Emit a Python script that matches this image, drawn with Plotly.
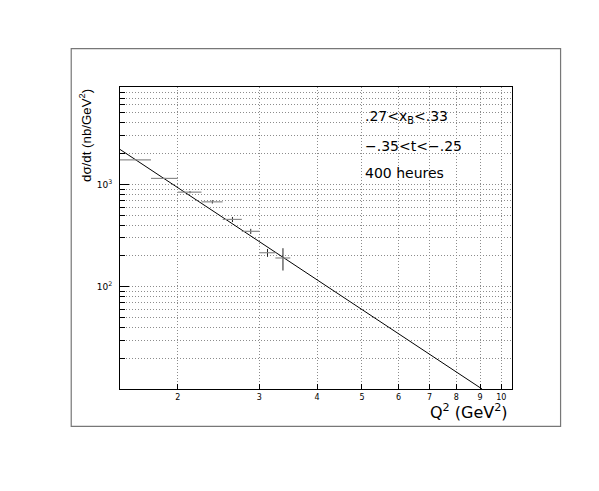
import plotly.graph_objects as go
import math

# ---- data ----
q2_centers = [1.625, 1.875, 2.125, 2.375, 2.625, 2.875, 3.125, 3.375]
q2_halfwidth = [0.125, 0.125, 0.125, 0.125, 0.125, 0.125, 0.125, 0.125]
dsigma = [1739, 1145, 841, 676, 455, 348, 215, 191]
dsigma_err = [12, 14, 20, 25, 26, 20, 19, 47]

fit_q2 = [1.5, 9.09]
fit_dsigma = [2200, 10]

x_tick_vals = [2, 3, 4, 5, 6, 7, 8, 9, 10]
x_tick_text = ["2", "3", "4", "5", "6", "7", "8", "9", "10"]
y_major_vals = [100, 1000]
y_major_text = ["10<sup>2</sup>", "10<sup>3</sup>"]
y_minor_vals = [20, 30, 40, 50, 60, 70, 80, 90,
                200, 300, 400, 500, 600, 700, 800, 900,
                2000, 3000, 4000, 5000, 6000, 7000, 8000, 9000]

x_range = [1.5, 10.55]
y_range = [10, 8970]

labels = [".27&lt;x<sub>B</sub>&lt;.33", "\u2212.35&lt;t&lt;\u2212.25", "400 heures"]

FONT = "DejaVu Sans"

fig = go.Figure()

fig.add_trace(go.Scatter(
    x=fit_q2, y=fit_dsigma, mode="lines",
    line=dict(color="black", width=1), showlegend=False, hoverinfo="skip"))

fig.add_trace(go.Scatter(
    x=q2_centers, y=dsigma, mode="markers",
    marker=dict(size=1, color="rgba(0,0,0,0)"),
    error_x=dict(type="data", array=q2_halfwidth, color="#8a8a8a", thickness=1.2, width=0),
    error_y=dict(type="data", array=dsigma_err, color="#222222", thickness=1, width=0),
    showlegend=False))

# page offset from the default body margin
OFF = 8
# plot area in page pixels
L, R, T, B = 119.5, 511.7, 86.7, 389.3
W, H = 599 - 2 * OFF, 491 - 2 * OFF
pw, ph = R - L, B - T

def px_x(px):
    return (px - L) / pw

def px_y(py):
    return (B - py) / ph

GRIDDASH = "1px,2px"
GRIDCOL = "#8c8c8c"
grid = dict(showgrid=True, gridcolor=GRIDCOL, griddash=GRIDDASH, gridwidth=1)

fig.update_xaxes(
    type="log", range=[math.log10(x_range[0]), math.log10(x_range[1])],
    tickmode="array", tickvals=x_tick_vals, ticktext=x_tick_text,
    ticks="inside", ticklen=5, tickcolor="black",
    showline=True, linecolor="black", linewidth=1, mirror=True,
    tickfont=dict(family=FONT, size=8, color="black"),
    zeroline=False, **grid)

fig.update_yaxes(
    type="log", range=[math.log10(y_range[0]), math.log10(y_range[1])],
    tickmode="array", tickvals=y_major_vals, ticktext=y_major_text,
    ticks="inside", ticklen=9, tickcolor="black",
    showline=True, linecolor="black", linewidth=1, mirror=True,
    tickfont=dict(family=FONT, size=9, color="black"),
    ticklabelstandoff=5,
    minor=dict(tickmode="array", tickvals=y_minor_vals, ticks="inside", ticklen=5,
               tickcolor="black", showgrid=True, gridcolor=GRIDCOL, griddash=GRIDDASH),
    zeroline=False, **grid)

annotations = []
ys = [116.7, 146.0, 172.7]
for txt, yy in zip(labels, ys):
    annotations.append(dict(
        x=px_x(362.5), y=px_y(yy), xref="paper", yref="paper",
        xanchor="left", yanchor="middle", text=txt, showarrow=False,
        font=dict(family=FONT, size=14, color="black")))

annotations.append(dict(
    x=px_x(510), y=px_y(412), xref="paper", yref="paper",
    xanchor="right", yanchor="middle", text="Q<sup>2</sup> (GeV<sup>2</sup>)",
    showarrow=False, font=dict(family=FONT, size=16, color="black")))

annotations.append(dict(
    x=px_x(85), y=px_y(86.7), xref="paper", yref="paper",
    xanchor="center", yanchor="top", textangle=-90,
    text="d\u03c3/dt (nb/GeV<sup>2</sup>)",
    showarrow=False, font=dict(family="Liberation Sans", size=13.3, color="black")))

shapes = [dict(type="rect", xref="paper", yref="paper",
               x0=px_x(70.7), x1=px_x(560.3), y0=px_y(426.7), y1=px_y(48.3),
               line=dict(color="#777777", width=1.2))]

fig.update_layout(
    width=W, height=H,
    margin=dict(l=L - OFF, r=W - (R - OFF), t=T - OFF, b=H - (B - OFF), pad=0),
    paper_bgcolor="white", plot_bgcolor="white",
    annotations=annotations, shapes=shapes,
    font=dict(family=FONT, color="black"))

fig.write_html("out.html")
